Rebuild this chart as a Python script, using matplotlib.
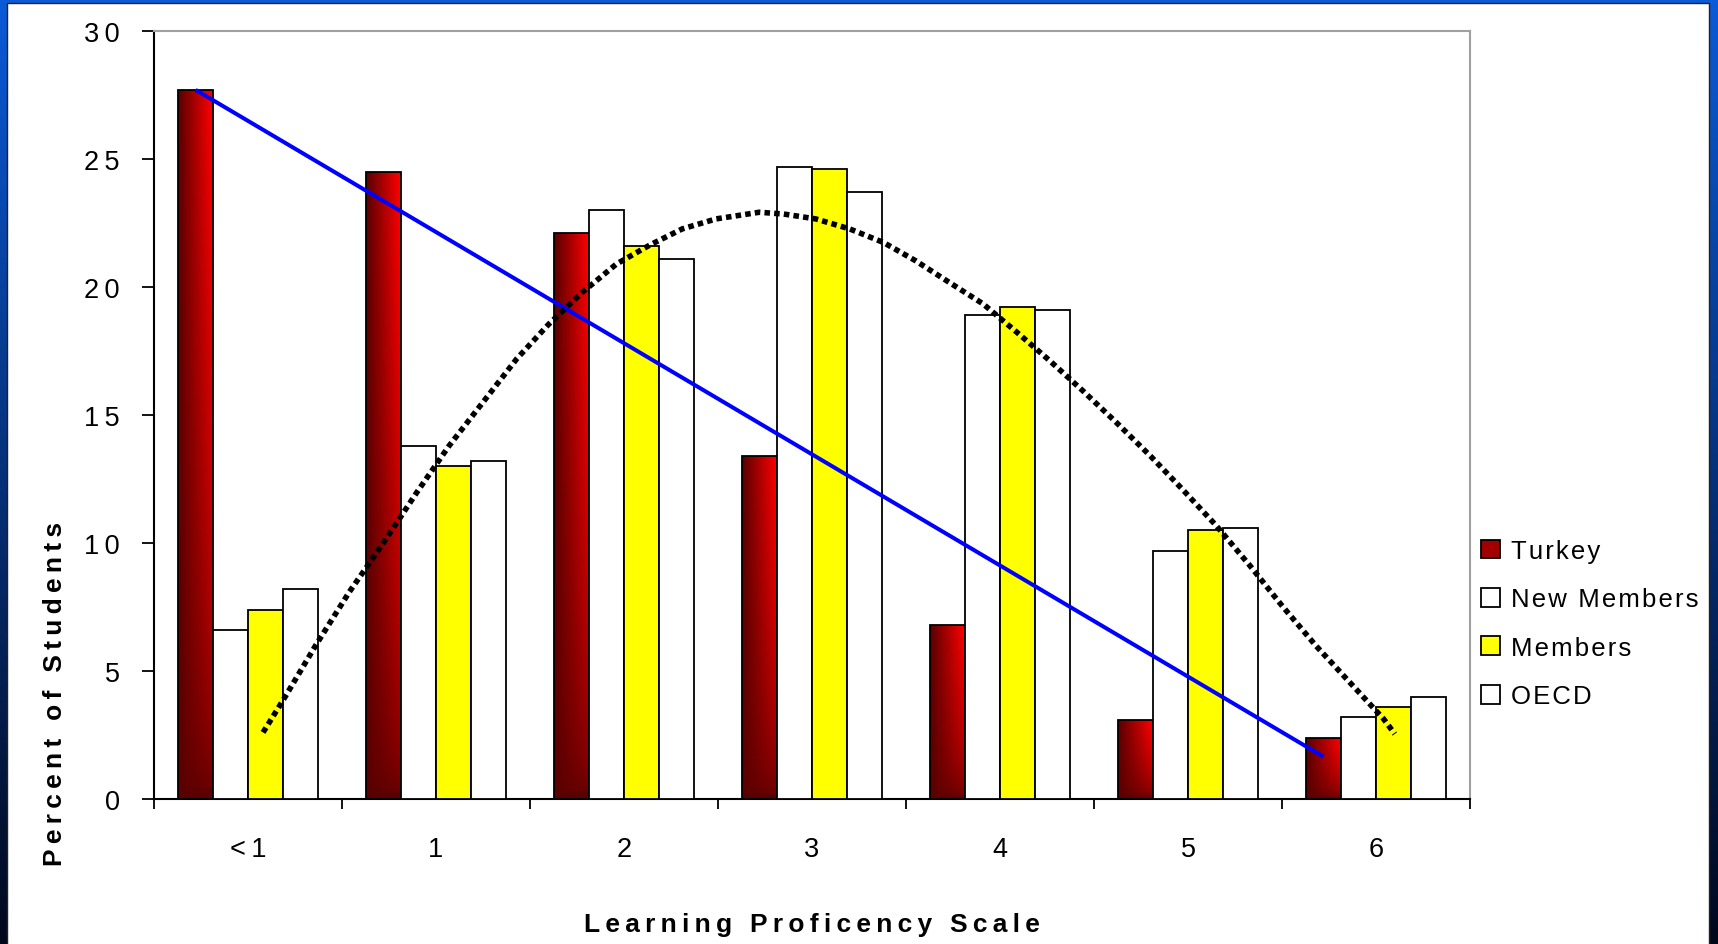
import numpy as np
import matplotlib.pyplot as plt
from matplotlib.colors import LinearSegmentedColormap
from matplotlib.patches import Patch, Rectangle

plt.rcParams['font.family'] = ['Liberation Sans', 'DejaVu Sans']

# data
levels = ['<1', '1', '2', '3', '4', '5', '6']
turkey = [27.7, 24.5, 22.1, 13.4, 6.8, 3.1, 2.4]
new_members = [6.6, 13.8, 23.0, 24.7, 18.9, 9.7, 3.2]
members = [7.4, 13.0, 21.6, 24.6, 19.2, 10.5, 3.6]
oecd = [8.2, 13.2, 21.1, 23.7, 19.1, 10.6, 4.0]

# straight blue line (from Turkey bar <1 to Turkey bar 6)
line_cats = [0, 6]
line_vals = [27.7, 1.65]

# dotted bell curve (x in category units)
curve_x = [0.08, 0.19, 0.36, 0.54, 0.72, 0.90, 1.07, 1.25, 1.43, 1.60, 1.78,
           1.96, 2.14, 2.31, 2.49, 2.72, 2.85, 3.02, 3.20, 3.38, 3.55, 3.73,
           3.91, 4.09, 4.26, 4.44, 4.62, 4.80, 4.97, 5.15, 5.33, 5.50, 5.68,
           5.86, 6.04, 6.10]
curve_y = [2.6, 3.9, 6.0, 8.1, 10.0, 12.0, 13.8, 15.5, 17.2, 18.55, 19.8,
           20.9, 21.65, 22.27, 22.66, 22.92, 22.85, 22.66, 22.27, 21.74, 21.03,
           20.18, 19.34, 18.23, 17.15, 15.95, 14.7, 13.4, 12.1, 10.68, 9.11,
           7.55, 5.99, 4.56, 3.13, 2.54]


def sp(s, gap='\u2009'):
    # Excel-like wide letter spacing
    return gap.join(s)


W, H = 1718, 945
fig = plt.figure(figsize=(W / 100, H / 100), dpi=100)

# blue frame + white slide panel
bg = fig.add_axes([0, 0, 1, 1], zorder=-10)
bg.set_axis_off()
grad = np.linspace(0, 1, 256).reshape(-1, 1)
bg.imshow(grad, cmap=LinearSegmentedColormap.from_list('bl', ['#0b5ad8', '#01081c']),
          extent=[0, 1, 0, 1], aspect='auto', origin='upper')
bg.add_patch(Rectangle((7 / W, -0.01), (1709 - 7) / W, 1.01 - 4 / H,
                       facecolor='white', edgecolor='#222222', lw=1))
bg.set_xlim(0, 1)
bg.set_ylim(0, 1)

ax = fig.add_axes([154 / W, 1 - 800 / H, (1470 - 154) / W, (800 - 32) / H])

x = np.arange(len(levels))
w = 0.186

tb = ax.bar(x - 1.5 * w, turkey, w, facecolor='none', edgecolor='black', lw=1.3, zorder=3)
ax.bar(x - 0.5 * w, new_members, w, color='white', edgecolor='black', lw=1.3, zorder=3)
ax.bar(x + 0.5 * w, members, w, color='#ffff00', edgecolor='black', lw=1.3, zorder=3)
ax.bar(x + 1.5 * w, oecd, w, color='white', edgecolor='black', lw=1.3, zorder=3)

# gradient fill on Turkey bars
red_cmap = LinearSegmentedColormap.from_list('rd', ['#5a0000', '#ff0000'])
gx, gy = np.meshgrid(np.linspace(0, 1, 40), np.linspace(0, 1, 80))
shade = gx * np.sqrt(gy)
for r in tb:
    x0, h = r.get_x(), r.get_height()
    im = ax.imshow(shade, cmap=red_cmap, vmin=0, vmax=1, extent=[x0, x0 + w, 0, h],
                   origin='lower', aspect='auto', zorder=2, interpolation='bilinear')
    im.set_clip_path(r)

ax.plot(np.array(line_cats) - 1.5 * w, line_vals, color='#0000ff', lw=2.9,
        solid_capstyle='butt', zorder=5)
ax.plot(curve_x, curve_y, color='black', lw=4, linestyle=(0, (1.0, 0.75)),
        dash_capstyle='butt', zorder=6)

ax.set_xlim(-0.5, 6.5)
ax.set_ylim(0, 30)

ax.set_yticks(range(0, 31, 5))
ax.set_yticklabels([sp(str(v)) for v in range(0, 31, 5)])
ax.tick_params(axis='y', direction='out', length=8.6, width=1.3, pad=16, labelsize=19.5)
ax.set_xticks(x)
ax.set_xticklabels([sp(l) for l in levels])
ax.tick_params(axis='x', which='major', length=0, pad=27, labelsize=19.5)
ax.set_xticks(np.arange(-0.5, 7, 1), minor=True)
ax.tick_params(axis='x', which='minor', direction='out', length=7.5, width=1.3)

for s in ['left', 'bottom']:
    ax.spines[s].set_color('black')
    ax.spines[s].set_linewidth(1.5)
for s in ['top', 'right']:
    ax.spines[s].set_color('#a0a0a0')
    ax.spines[s].set_linewidth(1.5)

handles = [Patch(facecolor='#a00000', edgecolor='black', lw=1.3),
           Patch(facecolor='white', edgecolor='black', lw=1.3),
           Patch(facecolor='#ffff00', edgecolor='black', lw=1.3),
           Patch(facecolor='white', edgecolor='black', lw=1.3)]
names = ['Turkey', 'New Members', 'Members', 'OECD']
fig.legend(handles, [sp(n, '\u200a') for n in names], loc='upper left',
           bbox_to_anchor=(1481 / W, 1 - 540 / H), frameon=False, fontsize=18.5,
           handlelength=0.75, handleheight=0.75, handletextpad=0.4,
           labelspacing=0.95, borderpad=0, borderaxespad=0)

fig.text(812 / W, 1 - 932 / H, sp('Learning Proficency Scale'), ha='center',
         va='baseline', fontsize=19, fontweight='bold')
fig.text(55 / W, 1 - 694 / H, sp('Percent of Students'), ha='center', va='center',
         rotation=90, fontsize=19, fontweight='bold')

fig.savefig('out.png', dpi=100)
